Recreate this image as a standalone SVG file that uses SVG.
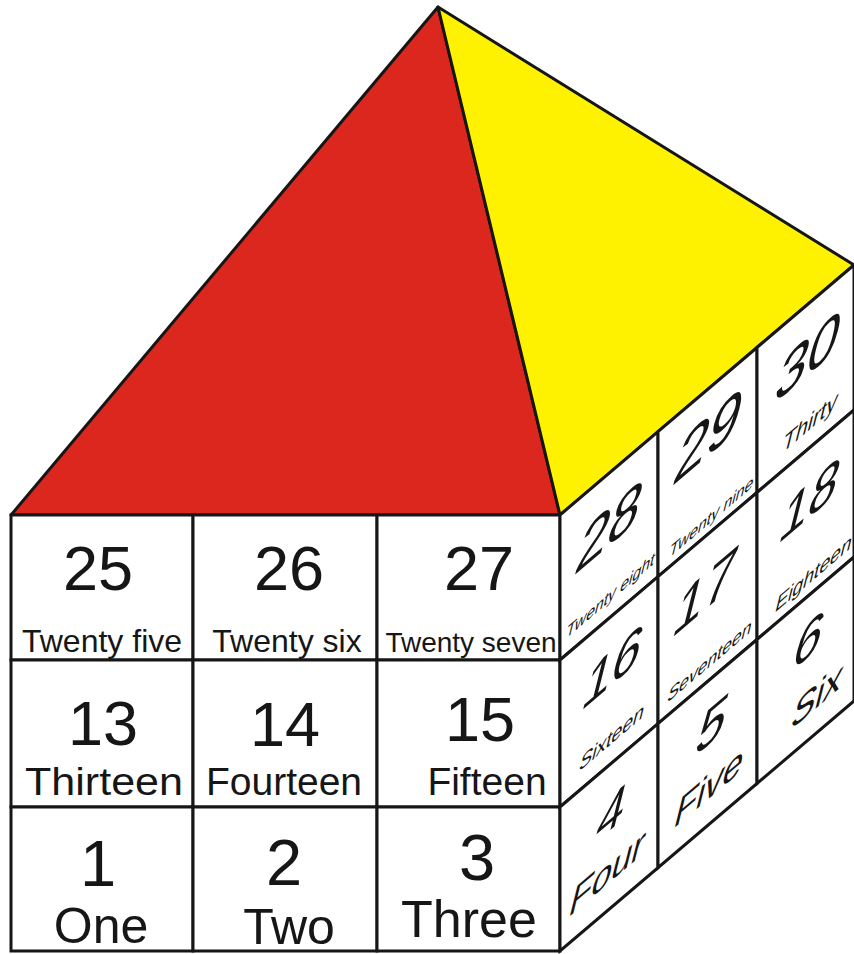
<svg xmlns="http://www.w3.org/2000/svg" width="854" height="954" viewBox="0 0 854 954">
<style>
.cell{fill:#fff;stroke:#161616;stroke-width:3;stroke-linejoin:miter}
.roof{stroke:#161616;stroke-width:3;stroke-linejoin:round}
text{font-family:"Liberation Sans",Arial,sans-serif;fill:#161616;text-anchor:middle}
.n{font-size:63px}
.w{font-size:32px}
.wm{font-size:39px}
.wb{font-size:50px}
</style>
<rect width="854" height="954" fill="#fff"/>
<g id="roof-front"><polygon class="roof" points="11,515 438,7 560,515" fill="#dc271e"/></g>
<g id="roof-side"><polygon class="roof" points="438,7 854,265 560,515" fill="#fff200"/></g>

<g id="c25"><rect class="cell" x="11" y="515" width="182" height="145"/><text class="n" x="98" y="590">25</text><text class="w" x="102" y="652">Twenty five</text></g>
<g id="c26"><rect class="cell" x="193" y="515" width="184" height="145"/><text class="n" x="289" y="590">26</text><text class="w" x="287" y="652">Twenty six</text></g>
<g id="c27"><rect class="cell" x="377" y="515" width="183" height="145"/><text class="n" x="479" y="590">27</text><text style="font-size:28px" x="471" y="652">Twenty seven</text></g>

<g id="c13"><rect class="cell" x="11" y="660" width="182" height="147"/><text class="n" x="103" y="745">13</text><text class="wm" x="104" y="795" textLength="158" lengthAdjust="spacingAndGlyphs">Thirteen</text></g>
<g id="c14"><rect class="cell" x="193" y="660" width="184" height="147"/><text class="n" x="285" y="746">14</text><text class="wm" x="284" y="795">Fourteen</text></g>
<g id="c15"><rect class="cell" x="377" y="660" width="183" height="147"/><text class="n" x="480" y="741">15</text><text class="wm" x="487" y="795">Fifteen</text></g>

<g id="c1"><rect class="cell" x="11" y="807" width="182" height="144"/><text class="n" style="font-size:65px" x="98" y="886">1</text><text class="wb" x="101" y="943">One</text></g>
<g id="c2"><rect class="cell" x="193" y="807" width="184" height="144"/><text class="n" style="font-size:65px" x="284" y="885">2</text><text class="wb" x="289" y="944">Two</text></g>
<g id="c3"><rect class="cell" x="377" y="807" width="183" height="144"/><text class="n" style="font-size:65px" x="477" y="880">3</text><text class="wb" style="font-size:52px" x="469" y="937">Three</text></g>

<g id="c28"><polygon class="cell" points="560,515 658,431.7 658,576.7 560,660"/><text style="font-size:65px" transform="matrix(0.876,-0.745,-0.27,1.08,604,550)">28</text><text style="font-size:18px" transform="matrix(0.876,-0.745,-0.27,1.08,609,602)">Twenty eight</text></g>
<g id="c29"><polygon class="cell" points="658,431.7 757,347.5 757,492.5 658,576.7"/><text style="font-size:67px" transform="matrix(0.876,-0.745,-0.27,1.08,703,460)">29</text><text style="font-size:18px" transform="matrix(0.876,-0.745,-0.27,1.08,710,523)">Twenty nine</text></g>
<g id="c30"><polygon class="cell" points="757,347.5 854,265 854,410 757,492.5"/><text style="font-size:64px" transform="matrix(0.876,-0.745,-0.27,1.08,803,379)">30</text><text style="font-size:25px" transform="matrix(0.876,-0.745,-0.27,1.08,808,431)">Thirty</text></g>

<g id="c16"><polygon class="cell" points="560,660 658,576.7 658,723.7 560,807"/><text style="font-size:59px" transform="matrix(0.876,-0.745,-0.27,1.08,608,688)">16</text><text style="font-size:22px" transform="matrix(0.876,-0.745,-0.27,1.08,610,745)">Sixteen</text></g>
<g id="c17"><polygon class="cell" points="658,576.7 757,492.5 757,639.5 658,723.7"/><text style="font-size:62px" transform="matrix(0.876,-0.745,-0.27,1.08,700,614)">17</text><text style="font-size:20px" transform="matrix(0.876,-0.745,-0.27,1.08,708,668)">Seventeen</text></g>
<g id="c18"><polygon class="cell" points="757,492.5 854,410 854,557 757,639.5"/><text style="font-size:59px" transform="matrix(0.876,-0.745,-0.27,1.08,805,521)">18</text><text style="font-size:22px" transform="matrix(0.876,-0.745,-0.27,1.08,812,581)">Eighteen</text></g>

<g id="c4"><polygon class="cell" points="560,807 658,723.7 658,867.7 560,951"/><text style="font-size:57px" transform="matrix(0.876,-0.745,-0.27,1.08,607,833)">4</text><text style="font-size:41px" transform="matrix(0.876,-0.745,-0.27,1.08,604,887)">Four</text></g>
<g id="c5"><polygon class="cell" points="658,723.7 757,639.5 757,783.5 658,867.7"/><text style="font-size:60px" transform="matrix(0.876,-0.745,-0.27,1.08,707,746)">5</text><text style="font-size:41px" transform="matrix(0.876,-0.745,-0.27,1.08,706,801)">Five</text></g>
<g id="c6"><polygon class="cell" points="757,639.5 854,557 854,701 757,783.5"/><text style="font-size:58px" transform="matrix(0.876,-0.745,-0.27,1.08,804,661)">6</text><text style="font-size:41px" transform="matrix(0.876,-0.745,-0.27,1.08,814,710)">Six</text></g>

<g id="connectors"/>
</svg>
